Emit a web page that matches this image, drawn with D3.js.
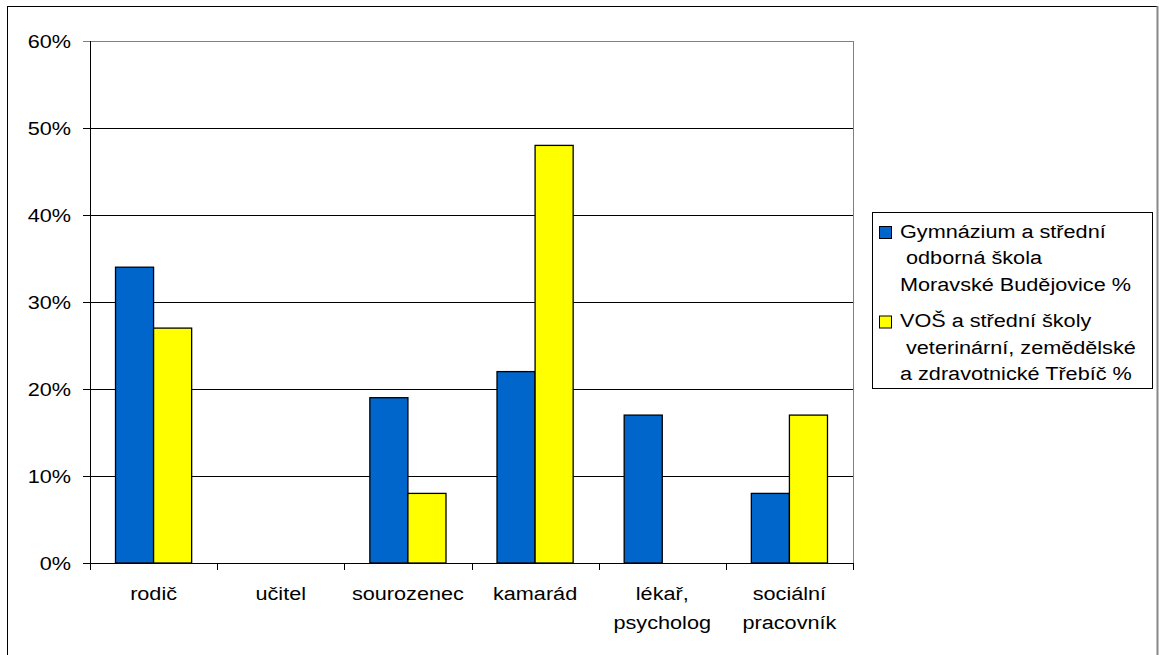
<!DOCTYPE html>
<html>
<head>
<meta charset="utf-8">
<script src="https://cdn.jsdelivr.net/npm/d3@7"></script>
<style>
    body { margin: 0; background: #fff; }
    text { font-family: "Liberation Sans", Arial, sans-serif; fill: #000; }
</style>
</head>
<body>
<div id="chart"></div>
<script>
// categories (multi-line labels)
const categories = ["rodič", "učitel", "sourozenec", "kamarád", "lékař, psycholog", "sociální pracovník"];
const categoryLines = [["rodič"], ["učitel"], ["sourozenec"], ["kamarád"], ["lékař,", "psycholog"], ["sociální", "pracovník"]];

const seriesNames = ["Gymnázium a střední odborná škola Moravské Budějovice %",
                     "VOŠ a střední školy veterinární, zemědělské a zdravotnické Třebíč %"];
const seriesLegendLines = [
    ["Gymnázium a střední", " odborná škola", "Moravské Budějovice %"],
    ["VOŠ a střední školy", " veterinární, zemědělské", "a zdravotnické Třebíč %"]
];
const seriesColours = ["#0066cc", "#ffff00"];

// values in %
const gymValues = [34, 0, 19, 22, 17, 8];
const vosValues = [27, 0, 8, 48, 0, 17];

const yTicks = [0, 10, 20, 30, 40, 50, 60];

const W = 1159, H = 655;
const margin = {top: 41, left: 90};
const plotW = 763, plotH = 522;
const stretch = 1.14;

const svg = d3.select("#chart").append("svg")
    .attr("width", W)
    .attr("height", H);

// chart area border
svg.append("rect")
    .attr("x", 7.5).attr("y", 6.5)
    .attr("width", 1150).attr("height", 700)
    .attr("fill", "none")
    .attr("stroke", "#000");
svg.append("line")
    .attr("x1", 1157.5).attr("x2", 1157.5)
    .attr("y1", 6).attr("y2", H)
    .attr("stroke", "#888").attr("stroke-width", 2);

const g = svg.append("g")
    .attr("transform", `translate(${margin.left}, ${margin.top})`);

const x = d3.scaleBand()
    .domain(categories)
    .range([0, plotW]);

const xInner = d3.scaleBand()
    .domain([0, 1])
    .range([0, x.bandwidth()])
    .paddingOuter(0.67);

const y = d3.scaleLinear()
    .domain([0, 60])
    .range([plotH, 0]);

// gridlines
g.selectAll(".grid")
    .data(yTicks.filter(d => d > 0))
    .join("line")
    .attr("class", "grid")
    .attr("x1", 0).attr("x2", plotW)
    .attr("y1", d => Math.round(y(d)) + 0.5)
    .attr("y2", d => Math.round(y(d)) + 0.5)
    .attr("stroke", d => d === 60 ? "#808080" : "#000")
    .attr("stroke-width", 1);

// right border of plot area
g.append("line")
    .attr("x1", plotW + 0.5).attr("x2", plotW + 0.5)
    .attr("y1", 0).attr("y2", plotH)
    .attr("stroke", "#808080");

// bars
const data = categories.map((c, i) => ({cat: c, vals: [gymValues[i], vosValues[i]]}));

const groups = g.selectAll(".group")
    .data(data)
    .join("g")
    .attr("class", "group")
    .attr("transform", d => `translate(${x(d.cat)}, 0)`);

groups.selectAll(".bar")
    .data(d => d.vals.map((v, s) => ({s, v})).filter(b => b.v > 0))
    .join("rect")
    .attr("class", "bar")
    .attr("x", d => xInner(d.s))
    .attr("y", d => y(d.v))
    .attr("width", xInner.bandwidth())
    .attr("height", d => y(0) - y(d.v))
    .attr("fill", d => seriesColours[d.s])
    .attr("stroke", "#000")
    .attr("stroke-width", 1.3);

// y axis
const yAxis = g.append("g").attr("class", "y-axis");
yAxis.append("line")
    .attr("x1", 0.5).attr("x2", 0.5)
    .attr("y1", 0).attr("y2", plotH)
    .attr("stroke", "#000");
yAxis.selectAll(".ytick")
    .data(yTicks)
    .join("line")
    .attr("x1", -7).attr("x2", 0)
    .attr("y1", d => Math.round(y(d)) + 0.5)
    .attr("y2", d => Math.round(y(d)) + 0.5)
    .attr("stroke", d => d === 60 ? "#808080" : "#000");
yAxis.selectAll(".ylabel")
    .data(yTicks)
    .join("text")
    .attr("class", "ylabel")
    .attr("transform", d => `translate(-19, ${y(d) + 6.7}) scale(${stretch}, 1)`)
    .attr("text-anchor", "end")
    .style("font-size", "19px")
    .text(d => d + "%");

// x axis
const xAxis = g.append("g").attr("class", "x-axis")
    .attr("transform", `translate(0, ${plotH})`);
xAxis.append("line")
    .attr("x1", 0).attr("x2", plotW)
    .attr("y1", 0.5).attr("y2", 0.5)
    .attr("stroke", "#000");
xAxis.selectAll(".xtick")
    .data(d3.range(categories.length + 1))
    .join("line")
    .attr("x1", d => Math.round(d * x.step()) + 0.5)
    .attr("x2", d => Math.round(d * x.step()) + 0.5)
    .attr("y1", 0).attr("y2", 7)
    .attr("stroke", "#000");

const xLabels = xAxis.selectAll(".xlabel")
    .data(categories.map((c, i) => ({cat: c, lines: categoryLines[i]})))
    .join("g")
    .attr("class", "xlabel")
    .attr("transform", d => `translate(${x(d.cat) + x.bandwidth() / 2}, 37)`);
xLabels.selectAll("text")
    .data(d => d.lines)
    .join("text")
    .attr("transform", (d, i) => `translate(0, ${i * 28.5}) scale(${stretch}, 1)`)
    .attr("text-anchor", "middle")
    .style("font-size", "19px")
    .text(d => d);

// legend
const legend = svg.append("g").attr("class", "legend");
legend.append("rect")
    .attr("x", 872.5).attr("y", 212.5)
    .attr("width", 280).attr("height", 176)
    .attr("fill", "#fff")
    .attr("stroke", "#000");

const items = legend.selectAll(".item")
    .data(seriesNames.map((n, i) => ({name: n, lines: seriesLegendLines[i], colour: seriesColours[i]})))
    .join("g")
    .attr("class", "item")
    .attr("transform", (d, i) => `translate(0, ${i * 89.5})`);

items.append("rect")
    .attr("x", 879.5).attr("y", 226.5)
    .attr("width", 12).attr("height", 12)
    .attr("fill", d => d.colour)
    .attr("stroke", "#000");

items.selectAll("text")
    .data(d => d.lines)
    .join("text")
    .attr("transform", (d, i) => `translate(900, ${237.7 + i * 26.6}) scale(${stretch}, 1)`)
    .style("font-size", "19px")
    .style("white-space", "pre")
    .text(d => d);
</script>
</body>
</html>
